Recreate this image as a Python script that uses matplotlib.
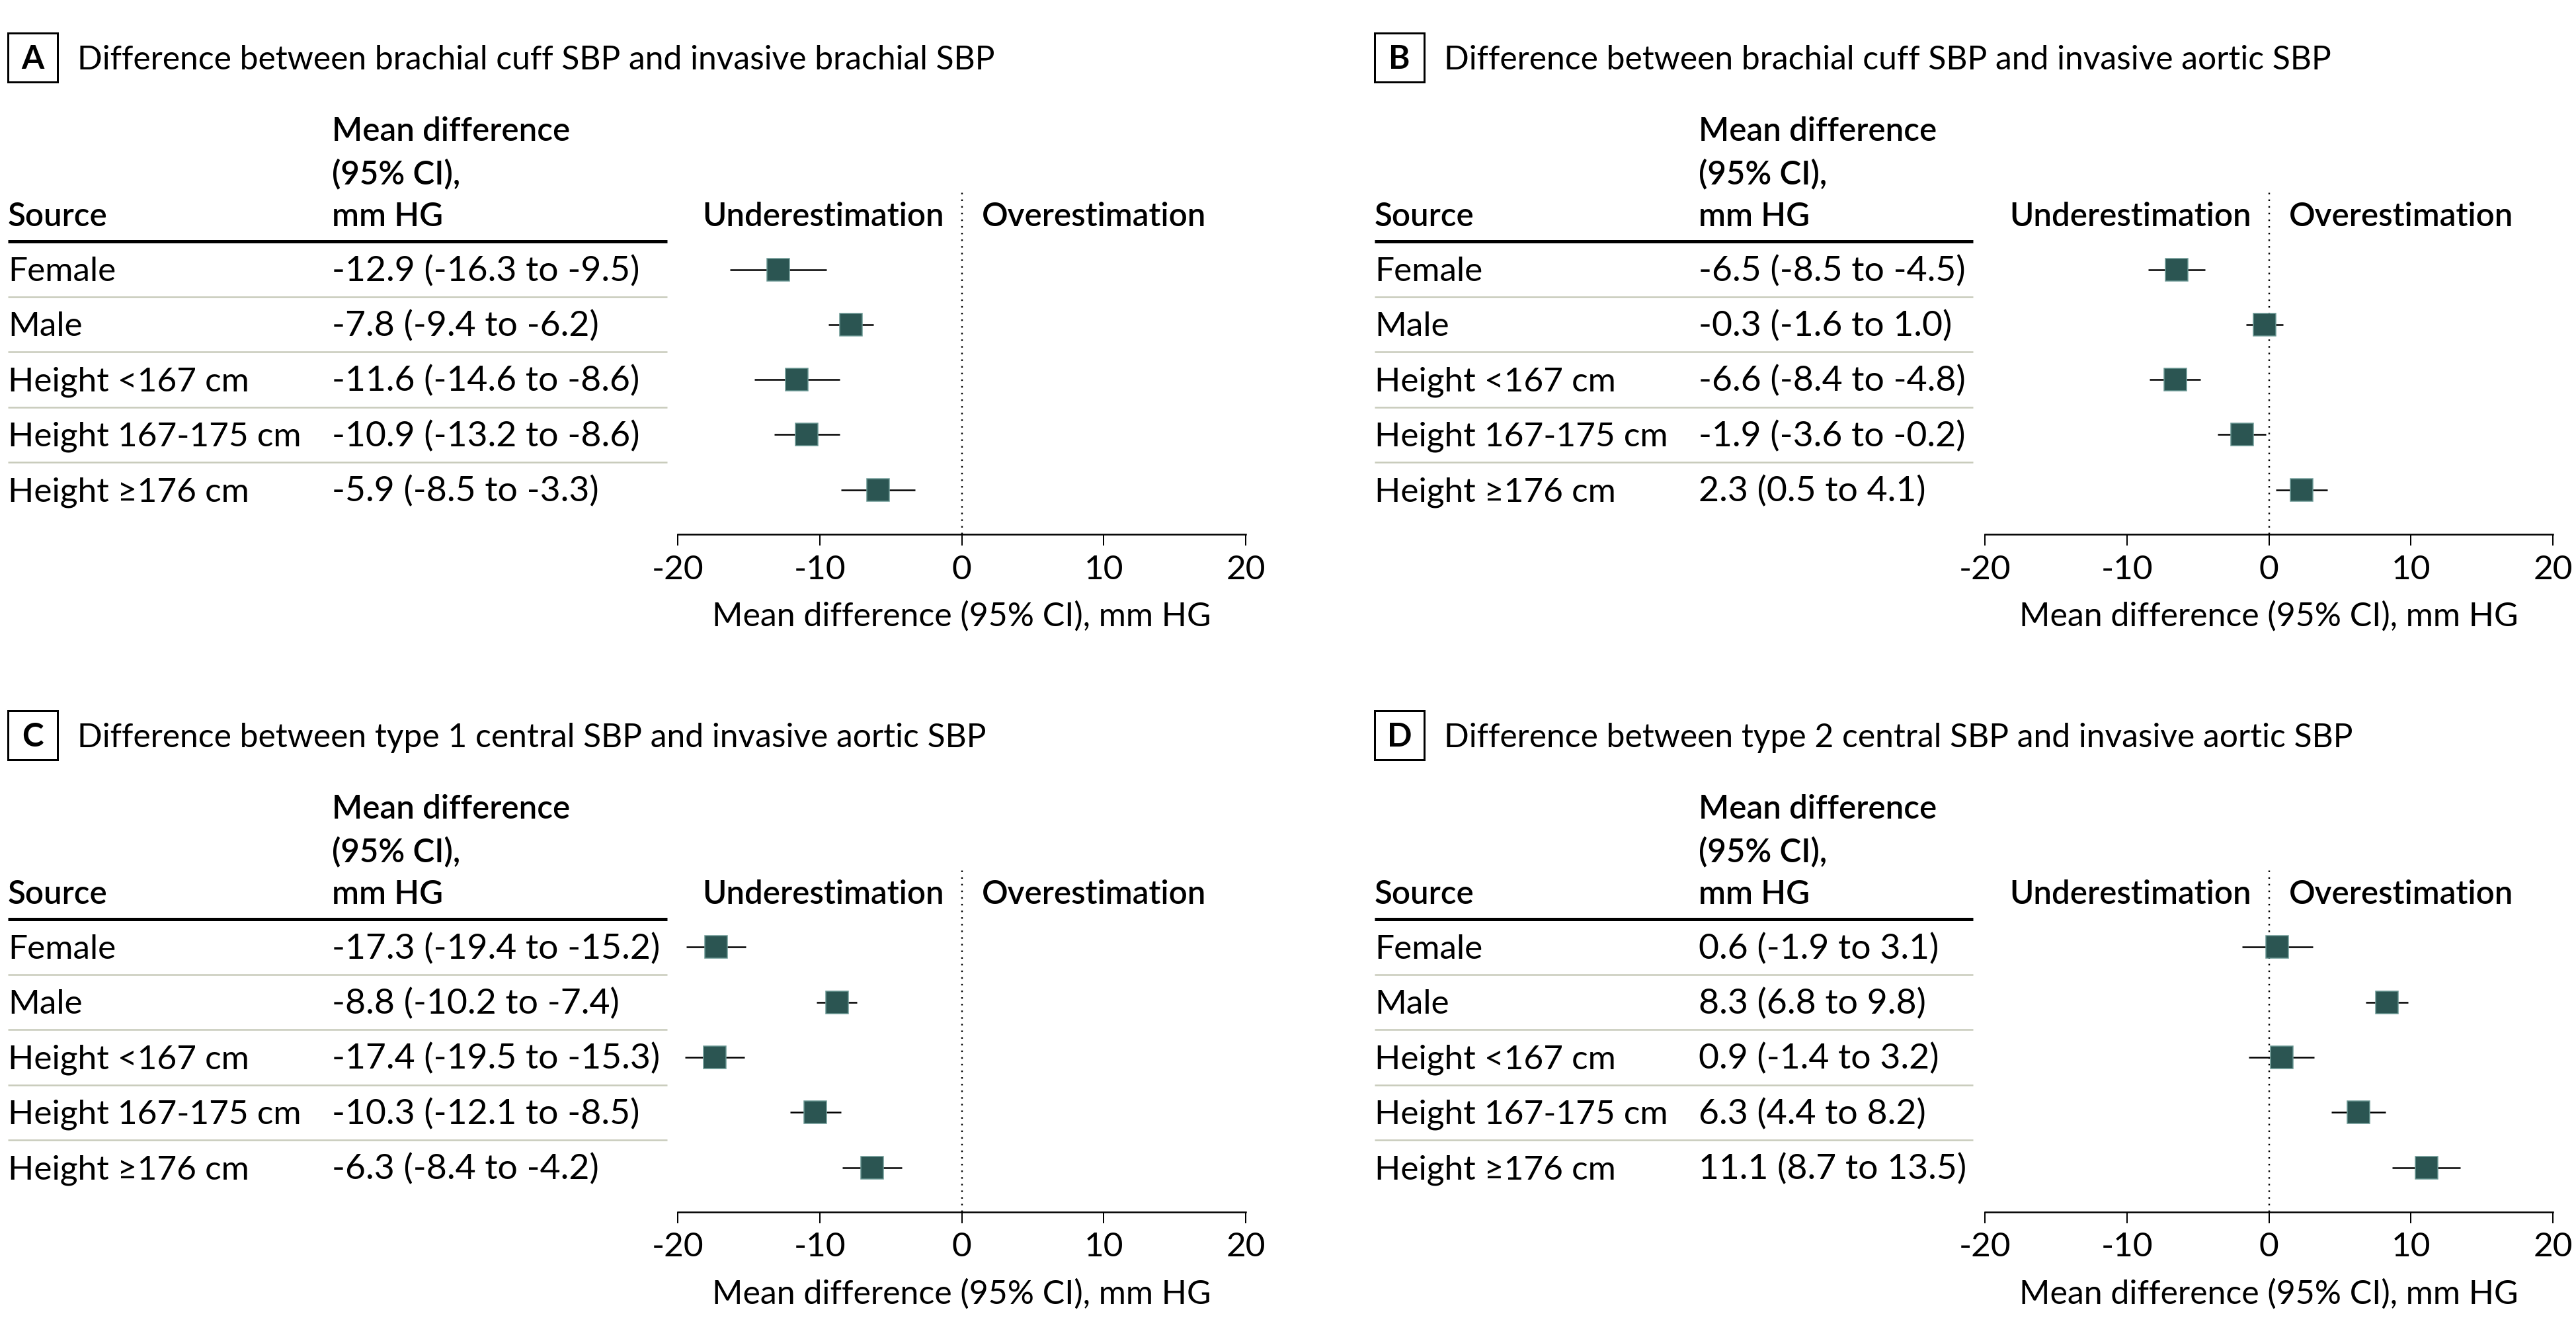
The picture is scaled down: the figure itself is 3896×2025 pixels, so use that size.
"""Forest plots of mean SBP differences by sex and height (panels A-D)."""
import matplotlib
matplotlib.use("Agg")
import matplotlib.pyplot as plt

W, H = 3896, 2025
DPI = 100

sources = ["Female", "Male", "Height <167 cm", "Height 167-175 cm", "Height \u2265176 cm"]
letters = ["A", "B", "C", "D"]
titles = [
    "Difference between brachial cuff SBP and invasive brachial SBP",
    "Difference between brachial cuff SBP and invasive aortic SBP",
    "Difference between type 1 central SBP and invasive aortic SBP",
    "Difference between type 2 central SBP and invasive aortic SBP",
]

mean_a = [-12.9, -7.8, -11.6, -10.9, -5.9]
lo_a = [-16.3, -9.4, -14.6, -13.2, -8.5]
hi_a = [-9.5, -6.2, -8.6, -8.6, -3.3]

mean_b = [-6.5, -0.3, -6.6, -1.9, 2.3]
lo_b = [-8.5, -1.6, -8.4, -3.6, 0.5]
hi_b = [-4.5, 1.0, -4.8, -0.2, 4.1]

mean_c = [-17.3, -8.8, -17.4, -10.3, -6.3]
lo_c = [-19.4, -10.2, -19.5, -12.1, -8.4]
hi_c = [-15.2, -7.4, -15.3, -8.5, -4.2]

mean_d = [0.6, 8.3, 0.9, 6.3, 11.1]
lo_d = [-1.9, 6.8, -1.4, 4.4, 8.7]
hi_d = [3.1, 9.8, 3.2, 8.2, 13.5]

ticks = [-20, -10, 0, 10, 20]
xlabel = "Mean difference (95% CI), mm HG"
col_head = ["Mean difference", "(95% CI),", "mm HG"]

# layout, in pixels of the full image (panel-relative y)
PANEL_X = [12, 2079, 12, 2079]
PANEL_Y = [0, 0, 1025, 1025]
AXIS_LEFT = [1025, 3002, 1025, 3002]
TABLE_RIGHT = [1009, 2984, 1009, 2984]
AXIS_W = 859
AXIS_Y = 807.5
DOT_TOP = 288
ROW0, ROW_STEP = 407.5, 83.3

FILL = "#2b5552"
EDGE = "#6a9894"
RULE = "#c8cbbb"

FS_TITLE = 35.8
FS_HEAD = 35.5
FS_ROW = 37
FS_VAL = 38.5
FS_TICK = 37
FS_XLAB = 36
HEAD_WEIGHT = "semibold"

plt.rcParams["font.family"] = ["Lato", "DejaVu Sans"]
plt.rcParams["axes.unicode_minus"] = False


def px(v):
    return v * 72 / DPI


def draw_panel(fig, ov, k, mean, lo, hi):
    x0, y0 = PANEL_X[k], PANEL_Y[k]

    # letter box and title
    ov.add_patch(plt.Rectangle((x0, y0 + 50), 75, 74, fill=False, lw=px(3), ec="black"))
    ov.text(x0 + 37.5, y0 + 104, letters[k], fontsize=FS_HEAD, fontweight="bold",
            ha="center", va="baseline")
    ov.text(x0 + 105, y0 + 105, titles[k], fontsize=FS_TITLE, va="baseline")

    # table header
    cx = x0 + 490
    for text, yb in zip(col_head, [213, 278, 342]):
        ov.text(cx, y0 + yb, text, fontsize=FS_HEAD, fontweight=HEAD_WEIGHT, va="baseline")
    ov.text(x0, y0 + 342, "Source", fontsize=FS_HEAD, fontweight=HEAD_WEIGHT, va="baseline")
    ov.plot([x0, TABLE_RIGHT[k]], [y0 + 364.5] * 2, color="black", lw=px(5),
            solid_capstyle="butt")

    zero_px = AXIS_LEFT[k] + AXIS_W / 2
    ov.text(zero_px - 27, y0 + 342, "Underestimation", fontsize=FS_HEAD,
            fontweight=HEAD_WEIGHT, ha="right", va="baseline")
    ov.text(zero_px + 30, y0 + 342, "Overestimation", fontsize=FS_HEAD,
            fontweight=HEAD_WEIGHT, ha="left", va="baseline")

    rows = [ROW0 + i * ROW_STEP for i in range(len(sources))]
    for i, (src, m, l, h) in enumerate(zip(sources, mean, lo, hi)):
        yb = y0 + rows[i] + 17.5
        ov.text(x0, yb, src, fontsize=FS_ROW, va="baseline")
        ov.text(cx, yb, f"{m:.1f} ({l:.1f} to {h:.1f})", fontsize=FS_VAL, va="baseline")
        if i < len(sources) - 1:
            ys = y0 + rows[i] + ROW_STEP / 2
            ov.plot([x0, TABLE_RIGHT[k]], [ys, ys], color=RULE, lw=px(2.5),
                    solid_capstyle="butt")

    # forest plot
    ax = fig.add_axes([AXIS_LEFT[k] / W, 1 - (y0 + AXIS_Y) / H,
                       AXIS_W / W, (AXIS_Y - DOT_TOP) / H])
    ax.patch.set_visible(False)
    ax.set_xlim(-20, 20)
    ax.set_ylim(AXIS_Y, DOT_TOP)
    ax.axvline(0, color="black", lw=px(2.4), ls=(0, (1, 3.2)), zorder=1)
    xerr = [[m - l for m, l in zip(mean, lo)], [h - m for m, h in zip(mean, hi)]]
    ax.errorbar(mean, rows, xerr=xerr, fmt="none", ecolor="black",
                elinewidth=px(2.5), capsize=0, zorder=2)
    ax.plot(mean, rows, ls="none", marker="s", ms=px(34), mfc=FILL, mec=EDGE,
            mew=px(1.5), zorder=3)
    for s in ["top", "left", "right"]:
        ax.spines[s].set_visible(False)
    ax.spines["bottom"].set_linewidth(px(2.5))
    ax.set_yticks([])
    ax.set_xticks(ticks)
    ax.set_xticklabels([str(t) for t in ticks])
    ax.tick_params(axis="x", length=px(17), width=px(2), pad=px(14), labelsize=FS_TICK)
    ax.set_xlabel(xlabel, fontsize=FS_XLAB, labelpad=px(24))
    return ax


def main():
    fig = plt.figure(figsize=(W / DPI, H / DPI), dpi=DPI)
    ov = fig.add_axes([0, 0, 1, 1])
    ov.set_xlim(0, W)
    ov.set_ylim(H, 0)
    ov.axis("off")

    data = [(mean_a, lo_a, hi_a), (mean_b, lo_b, hi_b),
            (mean_c, lo_c, hi_c), (mean_d, lo_d, hi_d)]
    for k, (m, l, h) in enumerate(data):
        draw_panel(fig, ov, k, m, l, h)

    fig.savefig("out.png", dpi=DPI, facecolor="white")
    plt.close(fig)


if __name__ == "__main__":
    main()
